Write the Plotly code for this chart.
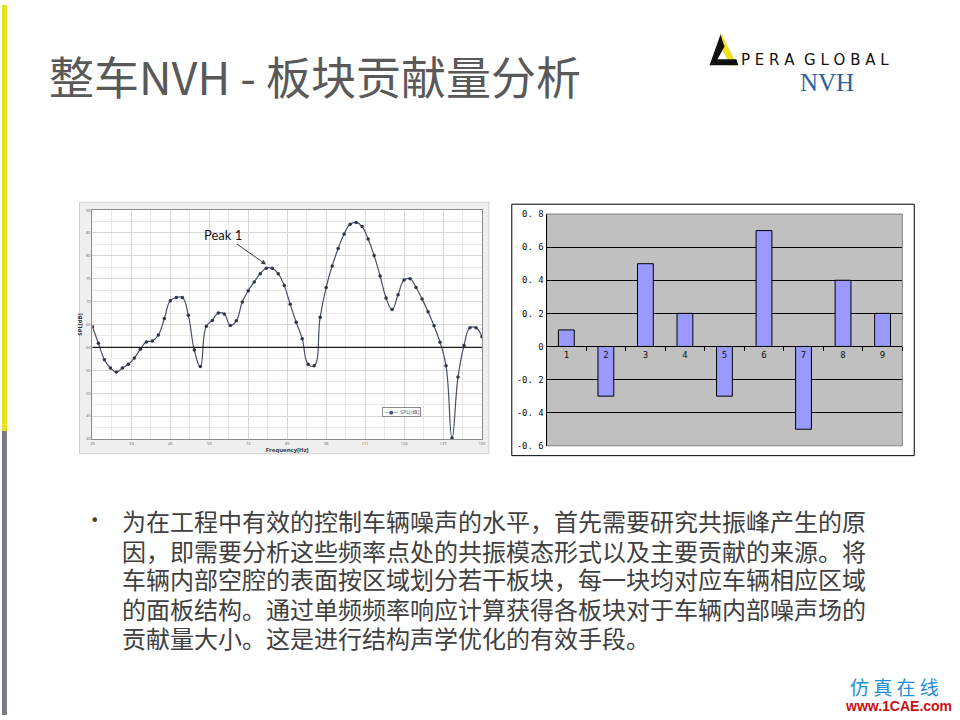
import plotly.graph_objects as go

# ---------------- data ----------------
FREQ = [20, 22, 24, 26, 28, 30, 32, 34, 36, 38, 40, 42, 44, 46, 48, 50, 52, 54, 56, 58,
        60, 62, 64, 66, 68, 70, 72, 74, 76, 78, 80, 82, 84, 86, 88, 90, 92, 94, 96, 98,
        100, 102, 104, 106, 108, 110, 112, 114, 116, 118, 120, 122, 124, 126, 128, 130,
        132, 134, 136, 138, 140, 142, 144, 146, 148, 150]
SPL = [64.5, 60.9, 57.3, 55.5, 54.6, 55.5, 56.3, 57.7, 59.6, 61.2, 61.4, 62.7, 66.3, 70.2,
       70.9, 70.9, 67.0, 59.4, 55.8, 64.6, 65.9, 67.5, 67.3, 64.8, 65.8, 69.9, 72.4, 74.3,
       76.1, 77.3, 77.3, 76.1, 73.5, 69.4, 65.5, 61.9, 56.3, 56.0, 66.6, 73.1, 77.8, 81.6,
       84.8, 86.9, 87.3, 86.4, 83.7, 80.1, 75.6, 70.8, 68.3, 71.5, 74.7, 75.0, 73.1, 70.6,
       67.8, 64.7, 61.1, 56.0, 40.2, 53.5, 60.4, 64.3, 64.3, 62.3]
FREQ_TICKS = [20, 33, 46, 59, 72, 85, 98, 111, 124, 137, 150]
SPL_TICKS = [40, 45, 50, 55, 60, 65, 70, 75, 80, 85, 90]
REF_LEVEL = 60
PEAK1 = (78, 78.1)
LEGEND_LABEL = "SPL[dB]"

PANELS = ["1", "2", "3", "4", "5", "6", "7", "8", "9"]
CONTRIB = [0.1, -0.3, 0.5, 0.2, -0.3, 0.7, -0.5, 0.4, 0.2]
CONTRIB_TICKS = [-0.6, -0.4, -0.2, 0, 0.2, 0.4, 0.6, 0.8]
CONTRIB_TICKTEXT = ["-0. 6", "-0. 4", "-0. 2", "0", "0. 2", "0. 4", "0. 6", "0. 8"]

TITLE = "整车NVH - 板块贡献量分析"
BODY = [
    "为在工程中有效的控制车辆噪声的水平，首先需要研究共振峰产生的原",
    "因，即需要分析这些频率点处的共振模态形式以及主要贡献的来源。将",
    "车辆内部空腔的表面按区域划分若干板块，每一块均对应车辆相应区域",
    "的面板结构。通过单频频率响应计算获得各板块对于车辆内部噪声场的",
    "贡献量大小。这是进行结构声学优化的有效手段。",
]

W, H = 960, 720
def px(x):
    return x / W
def py(y):
    return 1 - y / H

CJK = "Noto Sans CJK SC"

fig = go.Figure()

fig.add_trace(go.Scatter(
    x=FREQ, y=SPL, mode="lines+markers", name=LEGEND_LABEL,
    line=dict(color="#46506a", width=1.2, shape="spline", smoothing=1.3),
    marker=dict(size=3.5, color="#2e3548"),
    xaxis="x", yaxis="y", showlegend=False,
))

fig.add_trace(go.Bar(
    x=PANELS, y=CONTRIB, width=0.4,
    marker=dict(color="#9999ff", line=dict(color="#000000", width=1)),
    xaxis="x2", yaxis="y2", showlegend=False,
))

# left chart domains
LX = [px(91), px(483)]
LY = [py(440), py(208)]
# right chart domains
RX = [px(548), px(906)]
RY = [py(447), py(212)]
zero_pos = RY[0] + (0 - (-0.6)) / (0.8 - (-0.6)) * (RY[1] - RY[0])

shapes = [
    # slide side bars
    dict(type="rect", xref="paper", yref="paper", x0=0, x1=px(5), y0=py(432), y1=1,
         fillcolor="#e9e21c", line=dict(width=0), layer="below"),
    dict(type="rect", xref="paper", yref="paper", x0=0, x1=px(5), y0=0, y1=py(432),
         fillcolor="#807a85", line=dict(width=0), layer="below"),
    # left chart frame
    dict(type="rect", xref="paper", yref="paper", x0=px(78), x1=px(490), y0=py(455), y1=py(200),
         fillcolor="#efefef", line=dict(color="#d0d0d0", width=1), layer="below"),
    dict(type="rect", xref="x domain", yref="y domain", x0=0, x1=1, y0=0, y1=1,
         fillcolor="#ffffff", line=dict(width=0), layer="below"),
    # reference line at 60 dB
    dict(type="line", xref="x domain", yref="y", x0=0, x1=1, y0=REF_LEVEL, y1=REF_LEVEL,
         line=dict(color="#1a1a1a", width=1.3)),
    # right chart box
    dict(type="rect", xref="paper", yref="paper", x0=px(513), x1=px(918), y0=py(457), y1=py(202),
         fillcolor="#ffffff", line=dict(color="#000000", width=1), layer="below"),
    dict(type="rect", xref="x2 domain", yref="y2 domain", x0=0, x1=1, y0=0, y1=1,
         fillcolor="#c0c0c0", line=dict(color="#808080", width=1), layer="below"),
    # logo triangle
    dict(type="path", xref="paper", yref="paper",
         path=f"M {px(723)},{py(28)} L {px(740)},{py(61)} L {px(733)},{py(61)} L {px(724)},{py(44)} Z",
         fillcolor="#f0e020", line=dict(width=0)),
    dict(type="path", xref="paper", yref="paper",
         path=f"M {px(712)},{py(61)} L {px(723)},{py(30)} L {px(727)},{py(42)} L {px(720)},{py(55)} "
              f"L {px(739)},{py(55)} L {px(741)},{py(61)} Z",
         fillcolor="#111111", line=dict(width=0)),
]

annotations = [
    dict(text=TITLE, x=px(45), y=py(71), xref="paper", yref="paper", xanchor="left",
         yanchor="middle", showarrow=False, font=dict(family=CJK, size=45, color="#595959")),
    dict(text="P E R A  G L O B A L", x=px(742), y=py(56), xref="paper", yref="paper", xanchor="left",
         yanchor="middle", showarrow=False, font=dict(family="DejaVu Sans", size=15, color="#111111")),
    dict(text="NVH", x=px(830), y=py(79), xref="paper", yref="paper", xanchor="center",
         yanchor="middle", showarrow=False, font=dict(family="Liberation Serif", size=25, color="#2a64a0")),
    dict(text="Peak 1", x=PEAK1[0], y=PEAK1[1], xref="x", yref="y", ax=-43, ay=-30,
         showarrow=True, arrowhead=2, arrowsize=1, arrowwidth=1, arrowcolor="#404040",
         font=dict(family="Lato", size=13, color="#111111")),
    # legend box of the SPL chart
    dict(text="—●— " + LEGEND_LABEL, x=px(402), y=py(413), xref="paper", yref="paper",
         xanchor="center", yanchor="middle", showarrow=False, bgcolor="#ffffff",
         bordercolor="#8c8c8c", borderwidth=1, borderpad=1,
         font=dict(family="DejaVu Sans", size=5, color="#46506a")),
    dict(text="•", x=px(93), y=py(523), xref="paper", yref="paper", xanchor="center",
         yanchor="middle", showarrow=False, font=dict(family="DejaVu Sans", size=16, color="#404040")),
    dict(text="仿 真 在 线", x=px(898), y=py(691), xref="paper", yref="paper", xanchor="center",
         yanchor="middle", showarrow=False, font=dict(family=CJK, size=19, color="#1e8fd2")),
    dict(text="<b>www.1CAE.com</b>", x=px(902), y=py(711), xref="paper", yref="paper", xanchor="center",
         yanchor="middle", showarrow=False, font=dict(family="Liberation Sans", size=14, color="#cc1010")),
]
line_y = [523, 553, 582, 612, 641]
for txt, yy in zip(BODY, line_y):
    annotations.append(dict(text=txt, x=px(119), y=py(yy), xref="paper", yref="paper",
                            xanchor="left", yanchor="middle", showarrow=False,
                            font=dict(family=CJK, size=24, color="#404040")))

fig.update_layout(
    width=W, height=H, margin=dict(l=0, r=0, t=0, b=0),
    paper_bgcolor="#ffffff", plot_bgcolor="rgba(0,0,0,0)",
    shapes=shapes, annotations=annotations, showlegend=False,
    xaxis=dict(domain=LX, range=[20, 150], tickvals=FREQ_TICKS, anchor="y",
               tickfont=dict(size=4, color="#666666"), ticks="", showgrid=True,
               gridcolor="#d6d6d6", gridwidth=1,
               minor=dict(dtick=6.5, tick0=20, showgrid=True, gridcolor="#e8e8e8"),
               showline=True, linecolor="#8c8c8c", mirror=True, zeroline=False,
               title=dict(text="<b>Frequency[Hz]</b>", font=dict(size=6, color="#333333"), standoff=0)),
    yaxis=dict(domain=LY, range=[40, 90], tickvals=SPL_TICKS, anchor="x",
               tickfont=dict(size=4, color="#666666"), ticks="", showgrid=True,
               gridcolor="#d6d6d6", gridwidth=1,
               minor=dict(dtick=2.5, tick0=40, showgrid=True, gridcolor="#e8e8e8"),
               showline=True, linecolor="#8c8c8c", mirror=True, zeroline=False,
               title=dict(text="<b>SPL[dB]</b>", font=dict(size=6, color="#333333"), standoff=2)),
    xaxis2=dict(domain=RX, type="category", anchor="free", position=zero_pos,
                showline=True, linecolor="#000000", linewidth=1, ticks="outside",
                tickson="boundaries", ticklen=4, tickcolor="#000000", showgrid=False,
                tickfont=dict(family="DejaVu Sans Mono", size=9, color="#111111"),
                range=[-0.5, 8.5]),
    yaxis2=dict(domain=RY, range=[-0.6, 0.8], tickvals=CONTRIB_TICKS, ticktext=CONTRIB_TICKTEXT,
                anchor="x2", showgrid=True, gridcolor="#000000", gridwidth=1, zeroline=False,
                showline=True, linecolor="#000000", ticks="",
                tickfont=dict(family="DejaVu Sans Mono", size=9, color="#111111")),
)

fig.write_html("out.html", config={"displayModeBar": False},
               post_script="document.body.style.margin='0';document.body.style.overflow='hidden';")
